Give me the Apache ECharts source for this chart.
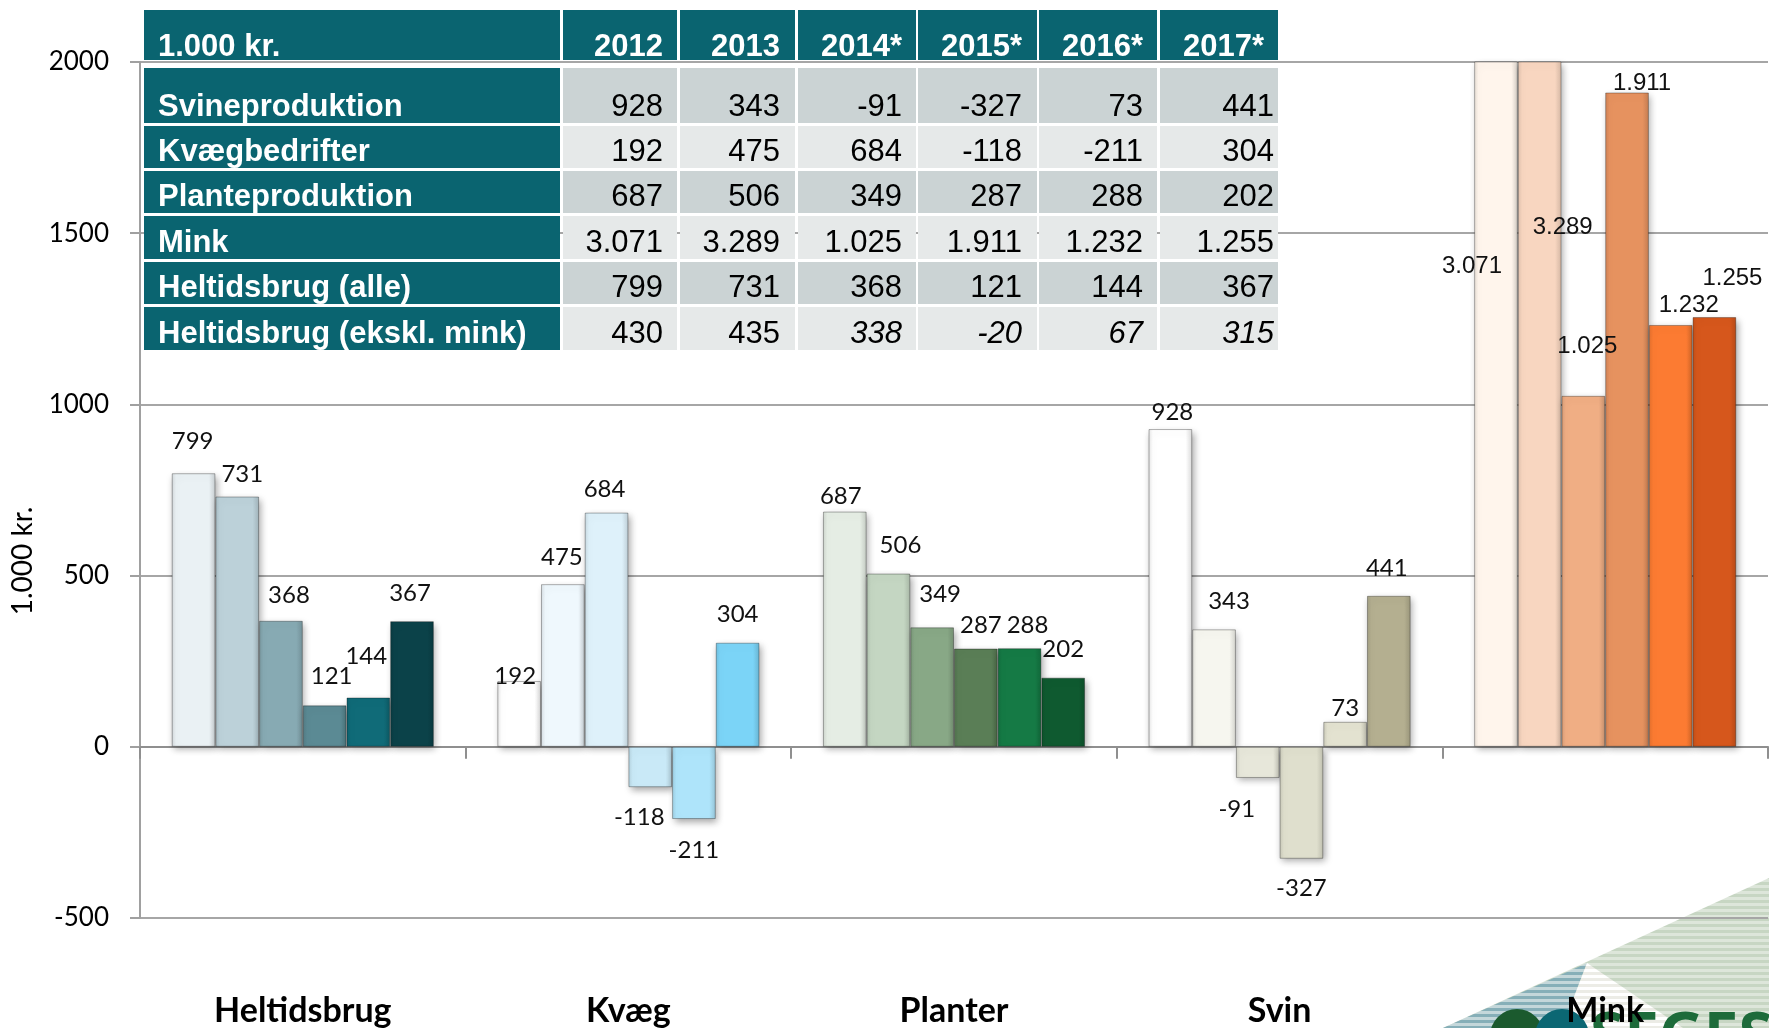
<!DOCTYPE html>
<html>
<head>
<meta charset="utf-8">
<title>Resultat pr. bedriftstype</title>
<script src="https://cdn.jsdelivr.net/npm/echarts@6/dist/echarts.min.js"></script>
<style>
  html, body { margin: 0; padding: 0; background: #fff; }
  #chart { width: 1769px; height: 1028px; }
</style>
</head>
<body>
<div id="chart"></div>
<script>
// data (1.000 kr.)
var years = ['2012', '2013', '2014*', '2015*', '2016*', '2017*'];
var categories = ['Heltidsbrug', 'Kvæg', 'Planter', 'Svin', 'Mink'];
var heltidsbrug = [799, 731, 368, 121, 144, 367];
var kvaeg = [192, 475, 684, -118, -211, 304];
var planter = [687, 506, 349, 287, 288, 202];
var svin = [928, 343, -91, -327, 73, 441];
var mink = [3071, 3289, 1025, 1911, 1232, 1255];
var heltidEksklMink = [430, 435, 338, -20, 67, 315];
var yTicks = [-500, 0, 500, 1000, 1500, 2000];
var tableRows = ['Svineproduktion', 'Kvægbedrifter', 'Planteproduktion', 'Mink',
  'Heltidsbrug (alle)', 'Heltidsbrug (ekskl. mink)'];
var tableValues = [svin, kvaeg, planter, mink, heltidsbrug, heltidEksklMink];

// colours per group, one per year
var palettes = {
  'Heltidsbrug': ['#eaf1f4', '#bcd1d9', '#87aab3', '#5b8a94', '#106b78', '#0b4249'],
  'Kvæg': ['#ffffff', '#eff8fd', '#def1fa', '#c9e9f7', '#aee4fa', '#7bd4f7'],
  'Planter': ['#e5ede4', '#c4d6c2', '#88a886', '#5a7e56', '#157a45', '#0f5a30'],
  'Svin': ['#ffffff', '#f6f6ef', '#e7e7da', '#dfdfcd', '#e3e2d0', '#b4af90'],
  'Mink': ['#fff5ec', '#f8d6c0', '#f0ae84', '#e6925f', '#fc7b32', '#d6571c']
};

// hand-moved data labels, like in the original sheet: [dx, dy] in px
var labelNudge = {
  'Heltidsbrug': [[-1, -5], [5, 5], [8, 1], [7, -2], [-2, -14], [-2, -1]],
  'Kvæg': [[-4, 22], [-1, 0], [-2, 4], [-11, 0], [0, 1], [0, -1]],
  'Planter': [[-4, 12], [12, -1], [8, -6], [5, 4], [8, 4], [0, -1]],
  'Svin': [[2, 10], [15, -1], [-21, 1], [0, 0], [0, 13], [-2, -1]],
  'Mink': [[-24, 232], [23, 193], [4, -22], [15, 18], [18, 7], [18, -12]]
};

function fmt(n) {
  var s = String(Math.abs(n)).replace(/\B(?=(\d{3})+(?!\d))/g, '.');
  return (n < 0 ? '-' : '') + s;
}

// darken a hex colour by factor k (0..1)
function shade(hex, k) {
  var n = parseInt(hex.slice(1), 16);
  var r = Math.round(((n >> 16) & 255) * (1 - k));
  var g = Math.round(((n >> 8) & 255) * (1 - k));
  var b = Math.round((n & 255) * (1 - k));
  return 'rgb(' + r + ',' + g + ',' + b + ')';
}

function bevel(hex) {
  return new echarts.graphic.LinearGradient(0, 0, 1, 0, [
    { offset: 0, color: shade(hex, 0.1) },
    { offset: 0.1, color: hex },
    { offset: 0.85, color: hex },
    { offset: 1, color: shade(hex, 0.14) }
  ]);
}

var valuesByCat = [heltidsbrug, kvaeg, planter, svin, mink];

var series = years.map(function (yr, j) {
  return {
    name: yr,
    type: 'bar',
    barGap: '0%',
    barCategoryGap: '19.5%',
    itemStyle: {
      borderColor: 'rgba(0,0,0,0.3)',
      borderWidth: 1,
      shadowBlur: 7,
      shadowColor: 'rgba(0,0,0,0.35)',
      shadowOffsetX: 2,
      shadowOffsetY: 3
    },
    label: {
      show: true,
      fontSize: 24,
      color: '#111',
      formatter: function (p) { return fmt(p.value); }
    },
    data: categories.map(function (c, i) {
      var v = valuesByCat[i][j];
      return {
        value: v,
        itemStyle: { color: bevel(palettes[c][j]) },
        label: {
          position: v < 0 ? 'bottom' : 'top',
          distance: v < 0 ? 18 : 15,
          offset: labelNudge[c][j],
          fontFamily: c === 'Mink' ? 'Liberation Sans' : 'Lato'
        }
      };
    })
  };
});

// table overlay
var tblLeft = 144, tblLabelRight = 560;
var tblCols = [[563, 677], [680, 795], [798, 916], [918, 1037], [1039, 1157], [1160, 1278]];
var valRight = [663, 780, 902, 1022, 1143, 1274];
var headRight = [663, 780, 902, 1022, 1143, 1264];
var headRow = [10, 60];
var bodyRows = [[68, 123], [126, 168], [171, 213], [216, 259], [262, 304], [307, 350]];
var teal = '#0a6470';
var tableFont = 'Liberation Sans, Arial, sans-serif';

var graphics = [];
function rect(x0, y0, x1, y1, fill, z) {
  graphics.push({ type: 'rect', z: z, silent: true,
    shape: { x: x0, y: y0, width: x1 - x0, height: y1 - y0 }, style: { fill: fill } });
}
function text(x, y, str, st, z) {
  var style = Object.assign({ text: str, fontFamily: tableFont, fontSize: 31,
    verticalAlign: 'middle' }, st);
  graphics.push({ type: 'text', z: z, silent: true, x: x, y: y, style: style });
}

rect(tblLeft, headRow[0], tblLabelRight, headRow[1], teal, 100);
text(158, headRow[1] - 13, '1.000 kr.', { fill: '#fff', fontWeight: 'bold', align: 'left' }, 101);
tblCols.forEach(function (col, j) {
  rect(col[0], headRow[0], col[1], headRow[1], teal, 100);
  text(headRight[j], headRow[1] - 13, years[j], { fill: '#fff', fontWeight: 'bold', align: 'right' }, 101);
});
tableRows.forEach(function (name, r) {
  var row = bodyRows[r];
  var cy = row[1] - 16;
  rect(tblLeft, row[0], tblLabelRight, row[1], teal, 100);
  text(158, cy, name, { fill: '#fff', fontWeight: 'bold', align: 'left' }, 101);
  tblCols.forEach(function (col, j) {
    rect(col[0], row[0], col[1], row[1], r % 2 === 0 ? '#cbd3d4' : '#e6e9e9', 100);
    var italic = r === tableRows.length - 1 && j >= 2;
    text(valRight[j], cy, fmt(tableValues[r][j]),
      { fill: '#000', align: 'right', fontStyle: italic ? 'italic' : 'normal' }, 101);
  });
});

// y axis name
graphics.push({ type: 'text', x: 23, y: 561, rotation: Math.PI / 2, silent: true,
  style: { text: '1.000 kr.', fontFamily: 'Lato', fontSize: 28, fill: '#000',
    align: 'center', verticalAlign: 'middle' } });

// logo in the corner
function stripes(c1, c2, h) {
  var cv = document.createElement('canvas');
  cv.width = 8; cv.height = h * 2;
  var ctx = cv.getContext('2d');
  ctx.fillStyle = c1; ctx.fillRect(0, 0, 8, h * 2);
  ctx.fillStyle = c2; ctx.fillRect(0, 0, 8, h);
  return { image: cv, repeat: 'repeat' };
}
graphics.push({ type: 'polygon', z: -10, silent: true,
  shape: { points: [[1769, 878], [1443, 1028], [1769, 1028]] },
  style: { fill: stripes('#dde6da', '#c7d6c3', 3) } });
graphics.push({ type: 'polygon', z: -9, silent: true,
  shape: { points: [[1587, 963], [1443, 1028], [1562, 1028]] },
  style: { fill: stripes('#c4d7da', '#86afb8', 3) } });
graphics.push({ type: 'polygon', z: -9, silent: true,
  shape: { points: [[1587, 963], [1562, 1028], [1683, 1028]] },
  style: { fill: stripes('#ffffff', '#ecece6', 3) } });
graphics.push({ type: 'circle', z: -8, silent: true,
  shape: { cx: 1517, cy: 1036, r: 27 }, style: { fill: '#1b5a2e' } });
graphics.push({ type: 'circle', z: -8, silent: true,
  shape: { cx: 1562, cy: 1036, r: 27 }, style: { fill: '#0b6773' } });
graphics.push({ type: 'text', z: -7, silent: true, x: 1590, y: 1008,
  style: { text: 'SEGES', fontFamily: 'Open Sans', fontWeight: 'bold', fontSize: 62,
    fill: '#1d6b3a', align: 'left', verticalAlign: 'top' } });

var chart = echarts.init(document.getElementById('chart'));
chart.setOption({
  animation: false,
  backgroundColor: '#fff',
  grid: { left: 140, right: 1, top: 62, bottom: 110, containLabel: false },
  xAxis: [
    {
      type: 'category',
      data: categories,
      axisLine: { onZero: true, lineStyle: { color: '#8f8f8f', width: 2 } },
      axisTick: { show: true, interval: 0, length: 12, lineStyle: { color: '#8f8f8f', width: 2 } },
      axisLabel: { show: false }
    },
    {
      type: 'category',
      data: categories,
      position: 'bottom',
      axisLine: { show: false, onZero: false },
      axisTick: { show: false },
      axisLabel: { show: true, interval: 0, margin: 76, fontFamily: 'Lato',
        fontWeight: 'bold', fontSize: 34, color: '#000' }
    }
  ],
  yAxis: {
    type: 'value',
    min: yTicks[0],
    max: yTicks[yTicks.length - 1],
    interval: yTicks[1] - yTicks[0],
    axisLine: { show: true, lineStyle: { color: '#a0a0a0', width: 2 } },
    axisTick: { show: true, length: 10, lineStyle: { color: '#a0a0a0', width: 2 } },
    splitLine: { show: true, lineStyle: { color: '#a6a6a6', width: 2 } },
    axisLabel: { margin: 31, fontFamily: 'Lato', fontSize: 26, color: '#000',
      formatter: function (v) { return String(v); } }
  },
  series: series,
  graphic: { elements: graphics }
});
</script>
</body>
</html>
